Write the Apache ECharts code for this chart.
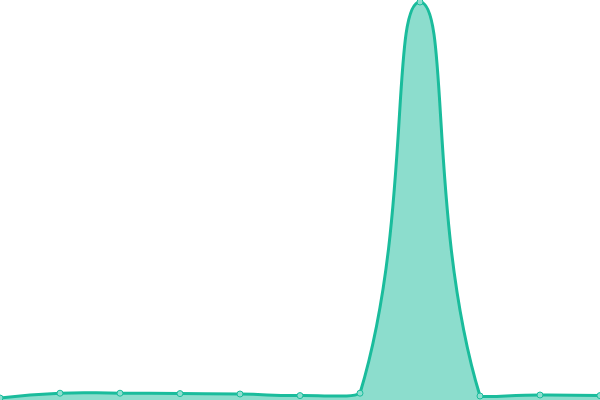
<!DOCTYPE html>
<html>
<head>
<meta charset="utf-8">
<script src="https://cdn.jsdelivr.net/npm/echarts@6/dist/echarts.min.js"></script>
<style>
  html, body { margin: 0; padding: 0; background: #fff; }
  #chart { width: 600px; height: 400px; }
</style>
</head>
<body>
<div id="chart"></div>
<script>
// x positions, one per point
var categories = ['1', '2', '3', '4', '5', '6', '7', '8', '9', '10', '11'];
// (0..100 of the plot height)
var values = [0.5, 1.7, 1.7, 1.6, 1.5, 1.1, 1.7, 99.5, 1.0, 1.25, 1.1];

var teal = '#1abc9c';
var smooth = 0.5;

// old-style (distance weighted, box constrained) bezier smoothing
function controlPoints(pts) {
    var minX = Infinity, minY = Infinity, maxX = -Infinity, maxY = -Infinity;
    pts.forEach(function (p) {
        minX = Math.min(minX, p[0]); maxX = Math.max(maxX, p[0]);
        minY = Math.min(minY, p[1]); maxY = Math.max(maxY, p[1]);
    });
    function clamp(p) {
        return [Math.min(Math.max(p[0], minX), maxX), Math.min(Math.max(p[1], minY), maxY)];
    }
    var cps = [];
    for (var i = 0; i < pts.length; i++) {
        var p = pts[i];
        if (i === 0 || i === pts.length - 1) {
            cps.push([p[0], p[1]]);
            continue;
        }
        var prev = pts[i - 1], next = pts[i + 1];
        var vx = (next[0] - prev[0]) * smooth;
        var vy = (next[1] - prev[1]) * smooth;
        var d0 = Math.hypot(p[0] - prev[0], p[1] - prev[1]);
        var d1 = Math.hypot(p[0] - next[0], p[1] - next[1]);
        var sum = d0 + d1;
        if (sum !== 0) { d0 /= sum; d1 /= sum; }
        cps.push(clamp([p[0] - vx * d0, p[1] - vy * d0]));
        cps.push(clamp([p[0] + vx * d1, p[1] + vy * d1]));
    }
    return cps;
}

function curvePath(pts) {
    var cps = controlPoints(pts);
    var d = 'M' + pts[0][0] + ' ' + pts[0][1];
    for (var i = 1; i < pts.length; i++) {
        var c1 = cps[2 * (i - 1)];
        var c2 = cps[2 * i - 1];
        d += ' C' + c1[0] + ' ' + c1[1] + ' ' + c2[0] + ' ' + c2[1] + ' ' + pts[i][0] + ' ' + pts[i][1];
    }
    return d;
}

var chart = echarts.init(document.getElementById('chart'));
chart.setOption({
    animation: false,
    grid: { left: 0, right: 0, top: 0, bottom: 0 },
    xAxis: {
        type: 'category',
        data: categories,
        boundaryGap: false,
        show: false
    },
    yAxis: {
        type: 'value',
        min: 0,
        max: 100,
        show: false
    },
    series: [{
        type: 'custom',
        data: values.map(function (v, i) { return [i, v]; }),
        encode: { x: 0, y: 1 },
        silent: true,
        renderItem: function (params, api) {
            if (params.dataIndex !== 0) return null;
            var pts = values.map(function (v, i) { return api.coord([i, v]); });
            var bottom = api.coord([0, 0])[1];
            var line = curvePath(pts);
            var area = line + ' L' + pts[pts.length - 1][0] + ' ' + bottom +
                ' L' + pts[0][0] + ' ' + bottom + ' Z';
            return {
                type: 'group',
                children: [{
                    type: 'path',
                    shape: { pathData: area },
                    style: { fill: teal, opacity: 0.5 }
                }, {
                    type: 'path',
                    shape: { pathData: line },
                    style: { fill: null, stroke: teal, lineWidth: 3 }
                }]
            };
        }
    }, {
        type: 'line',
        data: values,
        symbol: 'circle',
        symbolSize: 6,
        itemStyle: { color: '#8ddfcf', borderColor: teal, borderWidth: 1 },
        lineStyle: { width: 0, opacity: 0 },
        z: 5
    }]
});
</script>
</body>
</html>
